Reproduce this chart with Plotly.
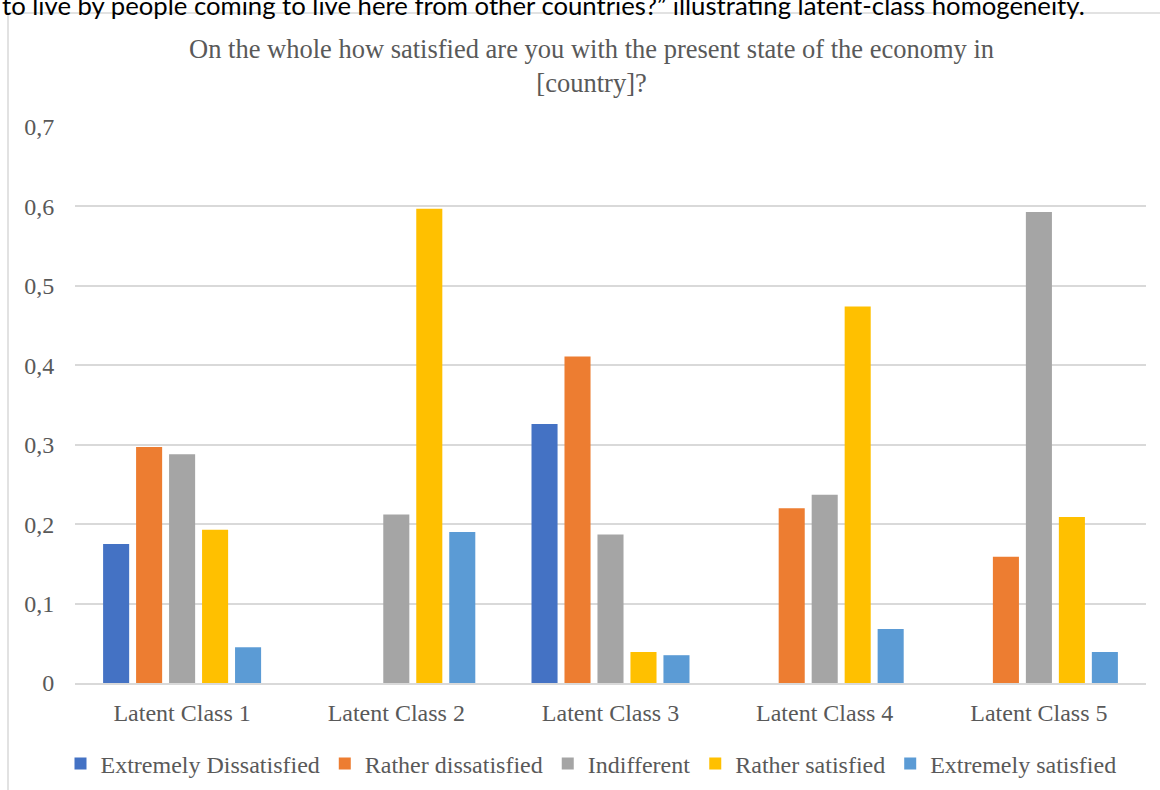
import plotly.graph_objects as go

categories = ["Latent Class 1", "Latent Class 2", "Latent Class 3", "Latent Class 4", "Latent Class 5"]

series_names = [
    "Extremely Dissatisfied",
    "Rather dissatisfied",
    "Indifferent",
    "Rather satisfied",
    "Extremely satisfied",
]
extremely_dissatisfied = [0.175, 0.0, 0.326, 0.0, 0.0]
rather_dissatisfied = [0.297, 0.0, 0.411, 0.220, 0.159]
indifferent = [0.288, 0.212, 0.187, 0.237, 0.593]
rather_satisfied = [0.193, 0.597, 0.039, 0.474, 0.209]
extremely_satisfied = [0.045, 0.190, 0.035, 0.068, 0.039]

series_values = [
    extremely_dissatisfied,
    rather_dissatisfied,
    indifferent,
    rather_satisfied,
    extremely_satisfied,
]
colors = ["#4472C4", "#ED7D31", "#A5A5A5", "#FFC000", "#5B9BD5"]

tick_vals = [0, 0.1, 0.2, 0.3, 0.4, 0.5, 0.6, 0.7]
tick_text = ["0", "0,1", "0,2", "0,3", "0,4", "0,5", "0,6", "0,7"]

title_text = "On the whole how satisfied are you with the present state of the economy in<br>[country]?"
caption_text = ("to live by people coming to live here from other countries?\u201d illustrating "
                "latent-class homogeneity.")

serif = "Liberation Serif, Times New Roman, serif"
grey_text = "#595959"
grid = "#D9D9D9"

W, H = 1160, 790
L, R, T, B = 75, 14, 127, 107
plot_w = W - L - R
plot_h = H - T - B

def px_x(x):
    return (x - L) / plot_w

def px_y(y):
    return (H - B - y) / plot_h

fig = go.Figure()
for name, vals, col in zip(series_names, series_values, colors):
    fig.add_trace(go.Bar(
        x=categories, y=vals, name=name,
        marker=dict(color=col, line=dict(width=0)),
        hoverinfo="x+y+name",
    ))

shapes = [
    dict(type="line", xref="paper", yref="paper", x0=px_x(8), x1=px_x(W + 5),
         y0=px_y(13), y1=px_y(13), line=dict(color=grid, width=1.5), layer="below"),
    dict(type="line", xref="paper", yref="paper", x0=px_x(8), x1=px_x(8),
         y0=px_y(13), y1=px_y(H + 5), line=dict(color=grid, width=1.5), layer="below"),
]

annotations = [
    dict(text=caption_text, xref="paper", yref="paper", x=px_x(0), y=px_y(5),
         xanchor="left", yanchor="middle", showarrow=False,
         font=dict(family="Lato, Open Sans, sans-serif", size=25.7, color="#000000")),
    dict(text=title_text, xref="paper", yref="paper", x=px_x(591), y=px_y(66),
         xanchor="center", yanchor="middle", showarrow=False,
         font=dict(family=serif, size=26.5, color=grey_text)),
]

fig.update_layout(
    width=W, height=H,
    margin=dict(l=L, r=R, t=T, b=B, autoexpand=False),
    paper_bgcolor="white", plot_bgcolor="white",
    barmode="group", bargap=0.23, bargroupgap=0.21,
    font=dict(family=serif, size=24, color=grey_text),
    showlegend=True,
    legend=dict(orientation="h", x=px_x(591), xanchor="center",
                y=px_y(764), yanchor="middle",
                font=dict(family=serif, size=24, color=grey_text),
                itemwidth=30, traceorder="normal"),
    shapes=shapes,
    annotations=annotations,
)
fig.update_xaxes(showgrid=False, showline=True, linecolor=grid, linewidth=1.5,
                 ticks="outside", ticklen=7, tickcolor="rgba(0,0,0,0)",
                 tickfont=dict(family=serif, size=24, color=grey_text))
fig.update_yaxes(range=[0, 0.7], tickvals=tick_vals, ticktext=tick_text,
                 showgrid=True, gridcolor=grid, gridwidth=1.5, zeroline=False,
                 showline=False, ticks="outside", ticklen=15, tickcolor="rgba(0,0,0,0)",
                 tickfont=dict(family=serif, size=24, color=grey_text))

fig.write_html("out.html")
